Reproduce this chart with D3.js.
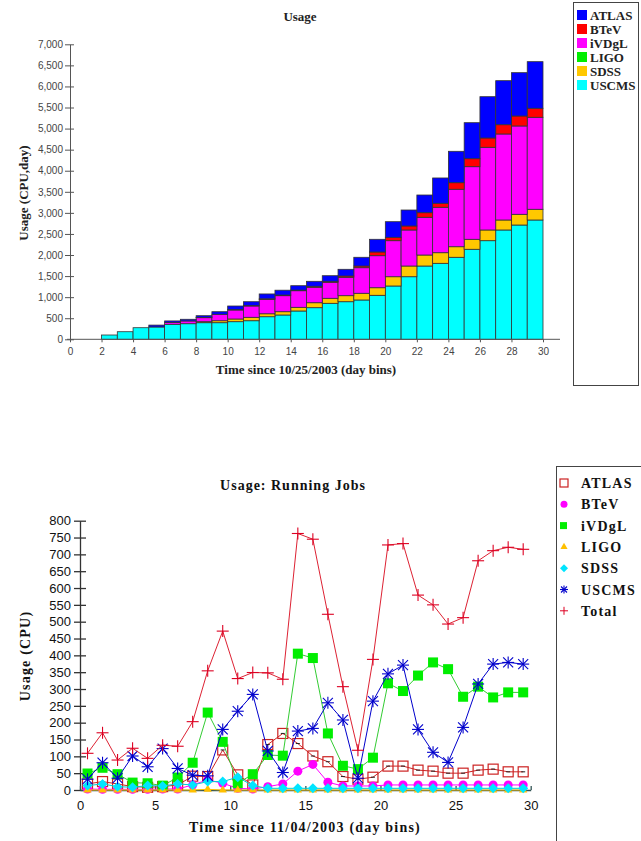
<!DOCTYPE html>
<html lang="en">
<head>
<meta charset="UTF-8">
<title>Usage</title>
<script src="https://cdnjs.cloudflare.com/ajax/libs/d3/7.9.0/d3.min.js"></script>
<style>
    body { margin: 0; background: #fff; }
    svg { display: block; }
</style>
</head>
<body>
<svg width="641" height="841"></svg>
<script>
    // ---- top chart: CPU days per day bin since 10/25/2003 ----
    let dayBins = [0, 1, 2, 3, 4, 5, 6, 7, 8, 9, 10, 11, 12, 13, 14, 15, 16, 17, 18, 19, 20, 21, 22, 23, 24, 25, 26, 27, 28, 29];
    let uscmsDays = [0, 0, 102, 180, 275, 292, 356, 370, 394, 394, 418, 441, 536, 577, 672, 750, 854, 892, 933, 1044, 1265, 1485, 1739, 1803, 1946, 2136, 2340, 2594, 2712, 2831];
    let sdssDays = [0, 0, 0, 0, 0, 0, 0, 0, 24, 47, 64, 81, 70, 78, 87, 118, 119, 143, 159, 180, 220, 254, 261, 252, 251, 237, 254, 237, 254, 254];
    let ligoDays = [0, 0, 0, 0, 0, 0, 0, 0, 0, 0, 0, 0, 0, 0, 0, 0, 0, 0, 0, 0, 0, 0, 0, 0, 0, 0, 0, 0, 0, 0];
    let ivdglDays = [0, 0, 0, 0, 0, 0, 45, 65, 95, 152, 213, 268, 340, 380, 394, 366, 380, 436, 607, 760, 855, 855, 895, 1077, 1363, 1723, 1962, 2041, 2096, 2183];
    let btevDays = [0, 0, 0, 0, 0, 0, 0, 0, 7, 0, 10, 10, 15, 15, 15, 24, 23, 31, 40, 88, 80, 95, 109, 95, 156, 190, 221, 220, 237, 214];
    let atlasDays = [0, 0, 0, 0, 0, 45, 35, 40, 40, 62, 85, 92, 115, 115, 104, 118, 133, 159, 207, 301, 371, 379, 420, 601, 745, 854, 980, 1045, 1028, 1106];
    let topYTicks = [0, 500, 1000, 1500, 2000, 2500, 3000, 3500, 4000, 4500, 5000, 5500, 6000, 6500, 7000];
    let topXTicks = [0, 2, 4, 6, 8, 10, 12, 14, 16, 18, 20, 22, 24, 26, 28, 30];

    // ---- bottom chart: running jobs since 11/04/2003 ----
    let jobBins = [0, 1, 2, 3, 4, 5, 6, 7, 8, 9, 10, 11, 12, 13, 14, 15, 16, 17, 18, 19, 20, 21, 22, 23, 24, 25, 26, 27, 28, 29];
    let atlasJobs = [18, 25, 18, 10, 8, 10, 15, 41, 40, 119, 45, 15, 135, 168, 138, 101, 84, 40, 32, 38, 71, 71, 59, 56, 50, 50, 59, 62, 54, 54];
    let btevJobs = [3, 2, 2, 2, 2, 3, 3, 15, 30, 20, 5, 3, 10, 18, 56, 76, 23, 12, 12, 12, 15, 15, 15, 15, 15, 15, 15, 15, 15, 15];
    let ivdglJobs = [49, 66, 47, 22, 20, 13, 37, 81, 230, 143, 20, 47, 104, 102, 405, 392, 168, 72, 62, 96, 317, 294, 340, 379, 359, 277, 307, 275, 290, 290];
    let ligoJobs = [0, 0, 0, 0, 0, 0, 0, 0, 2, 0, 0, 0, 0, 0, 0, 0, 0, 0, 0, 0, 0, 0, 0, 0, 0, 0, 0, 0, 0, 0];
    let sdssJobs = [13, 18, 10, 8, 13, 12, 18, 15, 25, 25, 38, 13, 5, 5, 5, 5, 5, 5, 5, 5, 5, 5, 5, 5, 5, 5, 5, 5, 5, 5];
    let uscmsJobs = [32, 81, 35, 101, 69, 123, 64, 44, 42, 180, 234, 284, 116, 52, 175, 183, 259, 208, 35, 264, 345, 371, 180, 112, 82, 186, 315, 374, 379, 374];
    let totalJobs = [109, 170, 89, 124, 94, 133, 130, 203, 354, 472, 331, 349, 348, 329, 762, 745, 522, 307, 118, 388, 728, 732, 579, 550, 493, 512, 681, 711, 721, 715];
    let botYTicks = [0, 50, 100, 150, 200, 250, 300, 350, 400, 450, 500, 550, 600, 650, 700, 750, 800];
    let botXTicks = [0, 5, 10, 15, 20, 25, 30];

    let svg = d3.select("svg");
    let serif = "'Liberation Serif', 'Times New Roman', serif";
    let sans = "'Liberation Sans', Arial, sans-serif";

    // ================= top: stacked bars =================
    let stackKeys = ["USCMS", "SDSS", "LIGO", "iVDgL", "BTeV", "ATLAS"];
    let barColor = { ATLAS: "#0000ff", BTeV: "#ff0000", iVDgL: "#ff00ff", LIGO: "#00ee00", SDSS: "#ffc800", USCMS: "#00ffff" };
    let rows = dayBins.map((d, i) => ({
        day: d, USCMS: uscmsDays[i], SDSS: sdssDays[i], LIGO: ligoDays[i],
        iVDgL: ivdglDays[i], BTeV: btevDays[i], ATLAS: atlasDays[i]
    }));
    let stacked = d3.stack().keys(stackKeys)(rows);

    let xTop = d3.scaleLinear().domain([0, 30]).range([70, 543]);
    let yTop = d3.scaleLinear().domain([0, 7000]).range([339.3, 44.3]);

    let topChart = svg.append("g");
    stacked.forEach(layer => {
        topChart.append("g").selectAll("rect")
            .data(layer)
            .join("rect")
            .attr("x", d => xTop(d.data.day))
            .attr("width", xTop(1) - xTop(0))
            .attr("y", d => yTop(d[1]))
            .attr("height", d => yTop(d[0]) - yTop(d[1]))
            .attr("fill", barColor[layer.key])
            .attr("stroke", "#333")
            .attr("stroke-width", 0.8)
            .attr("stroke-opacity", d => (d[1] - d[0] > 0 || layer.key == "USCMS") ? 1 : 0);
    });

    let yAxisTop = topChart.append("g")
        .attr("transform", "translate(70,0)")
        .call(d3.axisLeft(yTop).tickValues(topYTicks).tickFormat(d3.format(",")).tickSize(5).tickPadding(2).tickSizeOuter(0));
    yAxisTop.selectAll("line").attr("x1", 4);
    yAxisTop.selectAll("line, path").attr("stroke", "#555");
    yAxisTop.selectAll("text").attr("font-family", sans).attr("font-size", 10).attr("fill", "#444");

    let xAxisTop = topChart.append("g")
        .attr("transform", "translate(0,339.3)")
        .call(d3.axisBottom(xTop).tickValues(topXTicks).tickSize(3).tickPadding(6).tickSizeOuter(0));
    xAxisTop.select("path").attr("d", "M67,0H560");
    xAxisTop.selectAll("line, path").attr("stroke", "#555");
    xAxisTop.selectAll("text").attr("font-family", sans).attr("font-size", 10).attr("fill", "#444");

    topChart.append("text").attr("x", 300).attr("y", 21).attr("text-anchor", "middle")
        .attr("font-family", serif).attr("font-weight", "bold").attr("font-size", 13).attr("fill", "#222")
        .text("Usage");
    topChart.append("text").attr("x", 306).attr("y", 374).attr("text-anchor", "middle")
        .attr("font-family", serif).attr("font-weight", "bold").attr("font-size", 13).attr("fill", "#222")
        .text("Time since 10/25/2003 (day bins)");
    topChart.append("text").attr("transform", "translate(28,193) rotate(-90)").attr("text-anchor", "middle")
        .attr("font-family", serif).attr("font-weight", "bold").attr("font-size", 13).attr("fill", "#222")
        .text("Usage (CPU,day)");

    // legend
    let legendKeys = ["ATLAS", "BTeV", "iVDgL", "LIGO", "SDSS", "USCMS"];
    topChart.append("rect").attr("x", 573.5).attr("y", 2.5).attr("width", 65).attr("height", 383)
        .attr("fill", "none").attr("stroke", "#444");
    legendKeys.forEach((k, i) => {
        let yy = 15 + i * 14;
        topChart.append("rect").attr("x", 577).attr("y", yy - 5).attr("width", 10).attr("height", 10)
            .attr("fill", barColor[k]);
        topChart.append("text").attr("x", 590).attr("y", yy + 4.5)
            .attr("font-family", serif).attr("font-weight", "bold").attr("font-size", 13).attr("fill", "#222")
            .text(k);
    });

    // ================= bottom: running jobs lines =================
    let xBot = d3.scaleLinear().domain([0, 30]).range([80, 530.7]);
    let yBot = d3.scaleLinear().domain([0, 800]).range([790, 520.7]);
    let botChart = svg.append("g");

    let yAxisBot = botChart.append("g")
        .attr("transform", "translate(80,0)")
        .call(d3.axisLeft(yBot).tickValues(botYTicks).tickSize(6).tickPadding(3).tickSizeOuter(0));
    yAxisBot.selectAll("line").attr("x1", 6);
    yAxisBot.selectAll("line, path").attr("stroke", "#333").attr("stroke-width", 1.3);
    yAxisBot.selectAll("text").attr("font-family", sans).attr("font-size", 13).attr("fill", "#111");

    let xAxisBot = botChart.append("g")
        .attr("transform", "translate(0,790)")
        .call(d3.axisBottom(xBot).tickValues(botXTicks).tickSize(-4).tickPadding(11).tickSizeOuter(0));
    xAxisBot.selectAll("line, path").attr("stroke", "#335555").attr("stroke-width", 1.3);
    xAxisBot.selectAll("text").attr("font-family", sans).attr("font-size", 13).attr("fill", "#111");

    let series = [
        { name: "ATLAS", values: atlasJobs, color: "#cc2222", line: "#cc2222", marker: "openSquare" },
        { name: "BTeV", values: btevJobs, color: "#ff00ff", line: "#ff00ff", marker: "circle" },
        { name: "iVDgL", values: ivdglJobs, color: "#00ee00", line: "#33cc33", marker: "square" },
        { name: "LIGO", values: ligoJobs, color: "#ffc000", line: "#ffc000", marker: "triangle" },
        { name: "SDSS", values: sdssJobs, color: "#00e5ff", line: "#00cccc", marker: "diamond" },
        { name: "USCMS", values: uscmsJobs, color: "#0000cc", line: "#0000cc", marker: "star" },
        { name: "Total", values: totalJobs, color: "#dd0022", line: "#dd2233", marker: "plus" }
    ];

    function drawMarker(g, type, color, cx, cy) {
        if (type == "openSquare") {
            g.append("rect").attr("x", cx - 5).attr("y", cy - 5).attr("width", 10).attr("height", 10)
                .attr("fill", "none").attr("stroke", color).attr("stroke-width", 1.2);
            g.append("line").attr("x1", cx - 2).attr("x2", cx + 2).attr("y1", cy).attr("y2", cy).attr("stroke", "#222");
        } else if (type == "square") {
            g.append("rect").attr("x", cx - 5).attr("y", cy - 5).attr("width", 10).attr("height", 10).attr("fill", color);
        } else if (type == "circle") {
            g.append("circle").attr("cx", cx).attr("cy", cy).attr("r", 4.5).attr("fill", color);
        } else if (type == "triangle") {
            g.append("path").attr("transform", `translate(${cx},${cy})`)
                .attr("d", d3.symbol(d3.symbolTriangle, 30)()).attr("fill", color);
        } else if (type == "diamond") {
            g.append("path").attr("d", `M${cx},${cy - 5}L${cx + 5},${cy}L${cx},${cy + 5}L${cx - 5},${cy}Z`).attr("fill", color);
        } else if (type == "star") {
            [[-6, 0, 6, 0], [0, -6, 0, 6], [-5, -5, 5, 5], [-5, 5, 5, -5]].forEach(s => {
                g.append("line").attr("x1", cx + s[0]).attr("y1", cy + s[1]).attr("x2", cx + s[2]).attr("y2", cy + s[3])
                    .attr("stroke", color).attr("stroke-width", 1.1);
            });
        } else if (type == "plus") {
            g.append("line").attr("x1", cx - 6).attr("x2", cx + 6).attr("y1", cy).attr("y2", cy).attr("stroke", color).attr("stroke-width", 1.1);
            g.append("line").attr("x1", cx).attr("x2", cx).attr("y1", cy - 6).attr("y2", cy + 6).attr("stroke", color).attr("stroke-width", 1.1);
        }
    }

    let line = d3.line().x((d, i) => xBot(jobBins[i] + 0.5)).y(d => yBot(d));
    series.forEach(s => {
        let g = botChart.append("g");
        g.append("path").attr("d", line(s.values)).attr("fill", "none")
            .attr("stroke", s.line).attr("stroke-width", 1);
        s.values.forEach((v, i) => drawMarker(g, s.marker, s.color, xBot(jobBins[i] + 0.5), yBot(v)));
    });

    botChart.append("text").attr("x", 293).attr("y", 490).attr("text-anchor", "middle")
        .attr("font-family", serif).attr("font-weight", "bold").attr("font-size", 14).attr("letter-spacing", 1)
        .attr("fill", "#111").text("Usage: Running Jobs");
    botChart.append("text").attr("x", 305).attr("y", 832).attr("text-anchor", "middle")
        .attr("font-family", serif).attr("font-weight", "bold").attr("font-size", 14).attr("letter-spacing", 1.2)
        .attr("fill", "#111").text("Time since 11/04/2003 (day bins)");
    botChart.append("text").attr("transform", "translate(30,656) rotate(-90)").attr("text-anchor", "middle")
        .attr("font-family", serif).attr("font-weight", "bold").attr("font-size", 14).attr("letter-spacing", 1.2)
        .attr("fill", "#111").text("Usage (CPU)");

    // legend
    botChart.append("rect").attr("x", 556.5).attr("y", 466.5).attr("width", 100).attr("height", 400)
        .attr("fill", "none").attr("stroke", "#444");
    series.forEach((s, i) => {
        let yy = 483 + i * 21.3;
        let g = botChart.append("g");
        if (s.marker == "star") {
            [[-4, 0, 4, 0], [0, -4, 0, 4], [-3, -3, 3, 3], [-3, 3, 3, -3]].forEach(p => {
                g.append("line").attr("x1", 564 + p[0]).attr("y1", yy + p[1]).attr("x2", 564 + p[2]).attr("y2", yy + p[3])
                    .attr("stroke", s.color).attr("stroke-width", 1.1);
            });
        } else if (s.marker == "plus") {
            g.append("line").attr("x1", 560).attr("x2", 568).attr("y1", yy).attr("y2", yy).attr("stroke", s.color);
            g.append("line").attr("x1", 564).attr("x2", 564).attr("y1", yy - 4).attr("y2", yy + 4).attr("stroke", s.color);
        } else if (s.marker == "openSquare") {
            g.append("rect").attr("x", 560).attr("y", yy - 4).attr("width", 8).attr("height", 8)
                .attr("fill", "none").attr("stroke", s.color).attr("stroke-width", 1.2);
        } else if (s.marker == "square") {
            g.append("rect").attr("x", 560).attr("y", yy - 3.5).attr("width", 7).attr("height", 7).attr("fill", s.color);
        } else if (s.marker == "circle") {
            g.append("circle").attr("cx", 564).attr("cy", yy).attr("r", 3.5).attr("fill", s.color);
        } else if (s.marker == "triangle") {
            g.append("path").attr("transform", `translate(564,${yy})`)
                .attr("d", d3.symbol(d3.symbolTriangle, 22)()).attr("fill", s.color);
        } else if (s.marker == "diamond") {
            g.append("path").attr("d", `M564,${yy - 4}L568,${yy}L564,${yy + 4}L560,${yy}Z`).attr("fill", s.color);
        }
        botChart.append("text").attr("x", 581).attr("y", yy + 5)
            .attr("font-family", serif).attr("font-weight", "bold").attr("font-size", 14).attr("letter-spacing", 1.2)
            .attr("fill", "#111").text(s.name);
    });
</script>
</body>
</html>
